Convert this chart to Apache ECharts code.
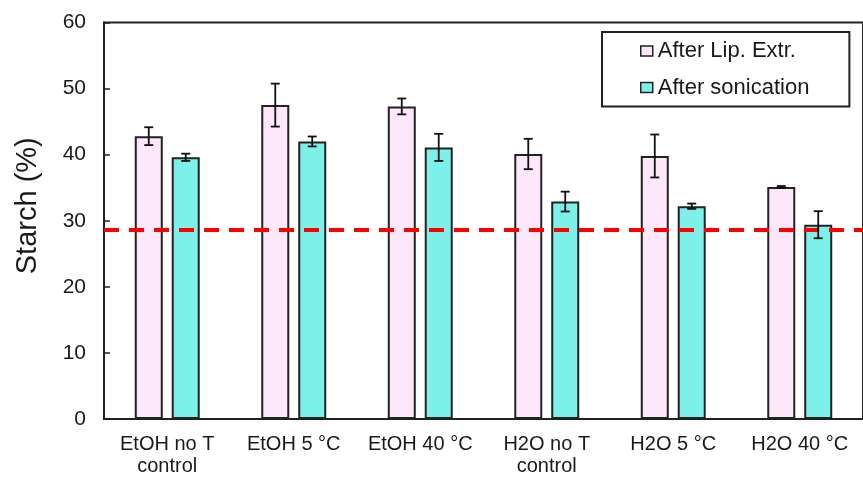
<!DOCTYPE html>
<html>
<head>
<meta charset="utf-8">
<script src="https://cdn.jsdelivr.net/npm/echarts@6/dist/echarts.min.js"></script>
<style>
  html, body { margin: 0; padding: 0; background: #fff; }
  #chart { width: 863px; height: 477px; }
</style>
</head>
<body>
<div id="chart"></div>
<script>
const categories = ['EtOH no T\ncontrol', 'EtOH 5 °C', 'EtOH 40 °C', 'H2O no T\ncontrol', 'H2O 5 °C', 'H2O 40 °C'];
const seriesNames = ['After Lip. Extr.', 'After sonication'];
const afterLipExtr = [42.8, 47.5, 47.3, 40.1, 39.8, 35.1];
const afterLipExtrErr = [1.35, 3.25, 1.2, 2.3, 3.25, 0.15];
const afterSonication = [39.6, 42.0, 41.1, 32.9, 32.2, 29.4];
const afterSonicationErr = [0.55, 0.75, 2.05, 1.5, 0.4, 2.05];
const referenceLevel = 28.6;
const yTicks = { min: 0, max: 60, interval: 10 };

const FONT = "'Liberation Sans', Arial, sans-serif";
const TXT = '#1a1a1a';
const BAR_W = 28;
const GAP_RATIO = 0.32;
const BAR_GAP = (GAP_RATIO * 100) + '%';
const HALF_SPAN = (BAR_W + BAR_W * GAP_RATIO) / 2;

function errData(vals, errs) {
  return vals.map((v, i) => [i, v, errs[i]]);
}
function errRender(offset) {
  return function (params, api) {
    const i = api.value(0), v = api.value(1), e = api.value(2);
    const hi = api.coord([i, v + e]);
    const lo = api.coord([i, v - e]);
    const x = hi[0] + offset;
    const cap = 4.5;
    const st = { stroke: '#111', lineWidth: 1.8 };
    return {
      type: 'group',
      children: [
        { type: 'line', shape: { x1: x, y1: hi[1], x2: x, y2: lo[1] }, style: st },
        { type: 'line', shape: { x1: x - cap, y1: hi[1], x2: x + cap, y2: hi[1] }, style: st },
        { type: 'line', shape: { x1: x - cap, y1: lo[1], x2: x + cap, y2: lo[1] }, style: st }
      ]
    };
  };
}

const chart = echarts.init(document.getElementById('chart'), null, { renderer: 'canvas' });
chart.setOption({
  animation: false,
  backgroundColor: '#fff',
  textStyle: { fontFamily: FONT, color: TXT },
  grid: {
    left: 104, top: 22.5, width: 764.5, bottom: 57,
    show: true, borderColor: '#222', borderWidth: 2, backgroundColor: 'transparent'
  },
  legend: {
    orient: 'vertical',
    left: 602, top: 32,
    data: seriesNames,
    icon: 'rect',
    itemWidth: 12, itemHeight: 10,
    itemGap: 14.6,
    padding: [8, 40, 8, 38],
    borderColor: '#222', borderWidth: 2,
    backgroundColor: '#fff',
    textStyle: { fontFamily: FONT, fontSize: 22, color: TXT },
    itemStyle: { borderColor: '#222', borderWidth: 1.5 }
  },
  xAxis: {
    type: 'category',
    data: categories,
    axisLine: { show: true, lineStyle: { color: '#222', width: 2 } },
    axisTick: { show: false },
    axisLabel: { fontFamily: FONT, fontSize: 20, color: TXT, margin: 14, lineHeight: 22, interval: 0 },
    splitLine: { show: false }
  },
  yAxis: {
    type: 'value',
    min: yTicks.min, max: yTicks.max, interval: yTicks.interval,
    name: 'Starch (%)',
    nameLocation: 'middle',
    nameGap: 62,
    nameTextStyle: { fontFamily: FONT, fontSize: 29, color: TXT, padding: [0, 0, 0, 30] },
    axisLine: { show: true, lineStyle: { color: '#222', width: 2 } },
    axisTick: { show: true, inside: true, length: 6, lineStyle: { color: '#222', width: 1.5 } },
    axisLabel: { fontFamily: FONT, fontSize: 21, color: TXT, margin: 18 },
    splitLine: { show: false }
  },
  series: [
    {
      name: seriesNames[0], type: 'bar', data: afterLipExtr,
      barWidth: BAR_W, barGap: BAR_GAP,
      itemStyle: { color: '#FDE8FB', borderColor: '#222', borderWidth: 2 }
    },
    {
      name: seriesNames[1], type: 'bar', data: afterSonication,
      barWidth: BAR_W, barGap: BAR_GAP,
      itemStyle: { color: '#7EF0EA', borderColor: '#222', borderWidth: 2 },
      markLine: {
        silent: true, symbol: ['none', 'none'], label: { show: false },
        lineStyle: { color: '#FF0000', width: 4, type: [15, 10] },
        data: [{ yAxis: referenceLevel }]
      }
    },
    {
      type: 'custom', name: 'errLip', data: errData(afterLipExtr, afterLipExtrErr),
      renderItem: errRender(-HALF_SPAN), encode: { x: 0, y: 1 }, z: 6, silent: true
    },
    {
      type: 'custom', name: 'errSon', data: errData(afterSonication, afterSonicationErr),
      renderItem: errRender(HALF_SPAN), encode: { x: 0, y: 1 }, z: 6, silent: true
    }
  ]
});
</script>
</body>
</html>
